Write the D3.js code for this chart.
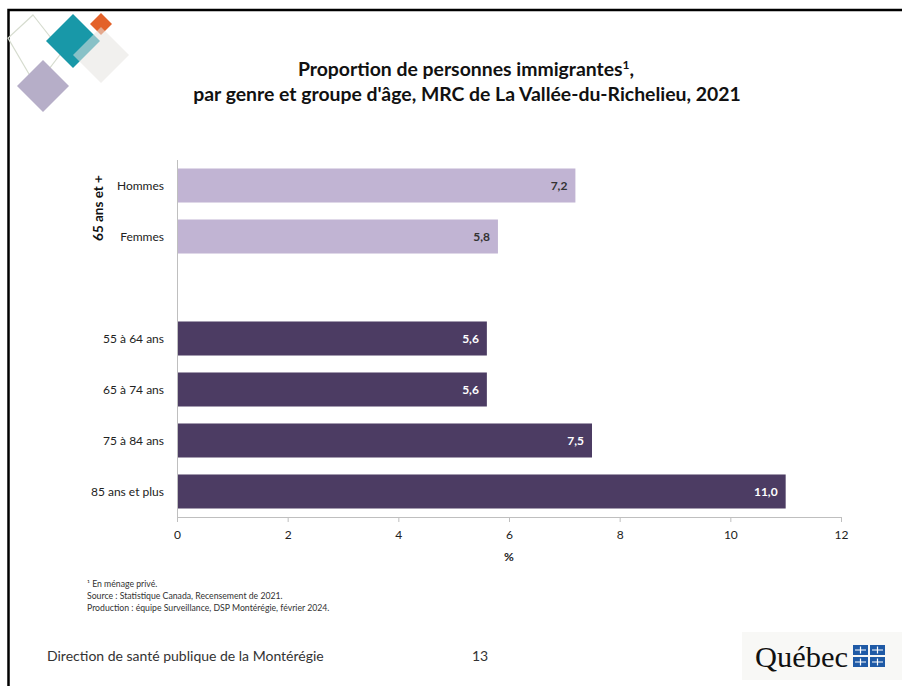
<!DOCTYPE html>
<html><head><meta charset="utf-8">
<script src="https://cdn.jsdelivr.net/npm/d3@7"></script>
<style>body{margin:0;background:#fff}svg{display:block}</style>
</head><body>
<svg id="c" width="902" height="686"></svg>
<script>
const categories = ["Hommes","Femmes","_gap","55 à 64 ans","65 à 74 ans","75 à 84 ans","85 ans et plus"];
const values = [7.2, 5.8, null, 5.6, 5.6, 7.5, 11.0];
const groups = ["65plus","65plus",null,"age","age","age","age"];
const xTicks = [0,2,4,6,8,10,12];
const titleLines = ["Proportion de personnes immigrantes", "par genre et groupe d'âge, MRC de La Vallée-du-Richelieu, 2021"];
const notes = ["\u00b9 En ménage privé.","Source : Statistique Canada, Recensement de 2021.","Production : équipe Surveillance, DSP Montérégie, février 2024."];

const svg = d3.select("#c");
const font = "Lato, 'Open Sans', sans-serif";

// frame
svg.append("path").attr("d","M8.5,686 L8.5,10 L902,10").attr("fill","none").attr("stroke","#000").attr("stroke-width",2.5);

// decorations
function diamond(cx,cy,h){return `M${cx},${cy-h} L${cx+h},${cy} L${cx},${cy+h} L${cx-h},${cy} Z`;}
svg.append("path").attr("d","M33,15 L62,52 L36,86 L8,38 Z").attr("fill","none").attr("stroke","#d6dccf").attr("stroke-width",1.2);
svg.append("path").attr("d",diamond(43,86,26)).attr("fill","#b6aec8");
svg.append("path").attr("d",diamond(73,41,27)).attr("fill","#1898a8");
svg.append("path").attr("d",diamond(101,24,11)).attr("fill","#e3622a");
svg.append("path").attr("d",diamond(101,55,28)).attr("fill","#e6e3e0").attr("opacity",0.55);

// title
const t = svg.append("text").attr("x",466).attr("y",76).attr("text-anchor","middle")
  .attr("font-family",font).attr("font-weight","bold").attr("font-size",19.4).attr("fill","#111");
t.append("tspan").text(titleLines[0]);
t.append("tspan").text("1").attr("font-size",12).attr("dy",-7);
t.append("tspan").text(",").attr("dy",7);
svg.append("text").attr("x",467).attr("y",101).attr("text-anchor","middle")
  .attr("font-family",font).attr("font-weight","bold").attr("font-size",19.4).attr("fill","#111").text(titleLines[1]);

// scales
const x = d3.scaleLinear().domain([0,12]).range([177,841]);
const y = d3.scaleBand().domain(categories).range([160,517]).paddingInner(0.333).paddingOuter(0.1667);
const colors = {"65plus":"#c1b4d3","age":"#4c3c63"};
const labelColors = {"65plus":"#333333","age":"#ffffff"};

const data = categories.map((c,i)=>({c, v:values[i], g:groups[i]})).filter(d=>d.v!==null);

svg.selectAll("rect.bar").data(data).join("rect").attr("class","bar")
  .attr("x",x(0)).attr("y",d=>y(d.c)).attr("width",d=>x(d.v)-x(0)).attr("height",y.bandwidth())
  .attr("fill",d=>colors[d.g]);

svg.selectAll("text.val").data(data).join("text").attr("class","val")
  .attr("x",d=>x(d.v)-8).attr("y",d=>y(d.c)+y.bandwidth()/2+4.5).attr("text-anchor","end")
  .attr("font-family",font).attr("font-weight","bold").attr("font-size",12)
  .attr("fill",d=>labelColors[d.g]).text(d=>d3.format(".1f")(d.v).replace(".",","));

// category labels
svg.selectAll("text.cat").data(data).join("text").attr("class","cat")
  .attr("x",164).attr("y",d=>y(d.c)+y.bandwidth()/2+4.5).attr("text-anchor","end")
  .attr("font-family",font).attr("font-size",12).attr("fill","#222").text(d=>d.c);

// group label
svg.append("text").attr("transform","translate(103,208) rotate(-90)").attr("text-anchor","middle")
  .attr("font-family",font).attr("font-weight","bold").attr("font-size",13.5).attr("fill","#111").text("65 ans et +");

// axes
const xAxis = d3.axisBottom(x).tickValues(xTicks).tickSize(5).tickFormat(d3.format("d"));
const ga = svg.append("g").attr("transform","translate(0,517)").call(xAxis);
ga.select(".domain").attr("stroke","#bfbfbf").attr("d","M177.5,0.5H841.5V5");
ga.selectAll(".tick line").attr("stroke","#bfbfbf");
ga.selectAll(".tick text").attr("font-family",font).attr("font-size",12).attr("fill","#222").attr("dy","1.2em");
svg.append("line").attr("x1",177.5).attr("x2",177.5).attr("y1",160).attr("y2",517).attr("stroke","#bfbfbf");

svg.append("text").attr("x",x(6)).attr("y",561).attr("text-anchor","middle")
  .attr("font-family",font).attr("font-weight","bold").attr("font-size",12).attr("fill","#222").text("%");

// notes
notes.forEach((n,i)=>{
  svg.append("text").attr("x",87).attr("y",587+i*12).attr("font-family",font).attr("font-size",8.7).attr("fill","#333").text(n);
});

// footer
svg.append("text").attr("x",47).attr("y",661).attr("font-family",font).attr("font-size",14).attr("fill","#333").text("Direction de santé publique de la Montérégie");
svg.append("text").attr("x",472).attr("y",661).attr("font-family",font).attr("font-size",14).attr("fill","#333").text("13");

// Québec logo
svg.append("rect").attr("x",742).attr("y",632).attr("width",160).attr("height",48).attr("fill","#f8f8f6");
svg.append("text").attr("x",755).attr("y",667).attr("font-family","'Liberation Serif', 'DejaVu Serif', serif").attr("font-size",29)
  .attr("textLength",93).attr("lengthAdjust","spacingAndGlyphs").attr("fill","#111").text("Québec");
[[853,645],[870,645],[853,657],[870,657]].forEach(([fx,fy])=>{
  svg.append("rect").attr("x",fx).attr("y",fy).attr("width",15).attr("height",10).attr("fill","#1f5aa6");
  svg.append("path").attr("d",`M${fx+7.5},${fy+1.5} V${fy+8.5} M${fx+2},${fy+5} H${fx+13}`).attr("stroke","#fff").attr("stroke-width",1.2);
});
</script>
</body></html>
